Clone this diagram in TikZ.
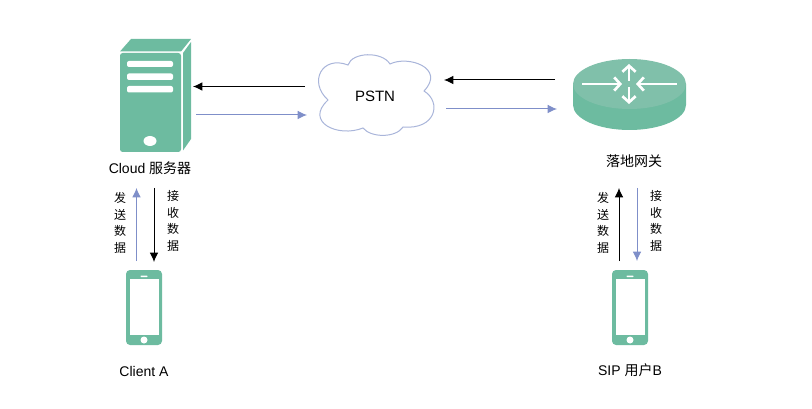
\documentclass[tikz,border=0pt]{standalone}
\usepackage{fontspec}
\setmainfont{Liberation Sans}
\newfontfamily\cjk{Noto Sans CJK SC}
\usetikzlibrary{arrows.meta}
\definecolor{grn}{HTML}{6DBBA0}
\definecolor{grnlt}{HTML}{80C0AA}
\definecolor{blu}{HTML}{7F8FC9}
\definecolor{cloudc}{HTML}{A9B5DA}
\tikzset{
  x=0.75pt,y=-0.75pt,
  lbl/.style={font=\fontsize{10.5}{12}\selectfont,inner sep=0pt,text=black},
  vlbl/.style={font=\cjk\fontsize{9}{12.6}\selectfont,inner sep=0pt,align=center,text=black},
  arrk/.style={draw=black,line width=0.75pt,-{Latex[length=7pt,width=6.5pt]}},
  arrb/.style={draw=blu,line width=0.75pt,-{Latex[length=7pt,width=6.5pt]}},
  wh/.style={draw=white,line width=2pt,-{Straight Barb[length=4.5pt,width=10pt,line width=2pt]}},
  slot/.style={fill=white,rounded corners=1.5pt},
}
\newcommand{\phone}[1]{%
  \fill[grn,rounded corners=3pt] (#1-18,270) rectangle (#1+18,345);
  \fill[white] (#1-14.5,279) rectangle (#1+14.5,335);
  \fill[white,rounded corners=0.5pt] (#1-3.5,275.5) rectangle (#1+3.5,277);
  \fill[white] (#1,340) circle[radius=3.5];
}
\begin{document}
\begin{tikzpicture}
\useasboundingbox (0,0) rectangle (812,409);
% server
\fill[grn] (120,51.5) -- (131,39) -- (191,39) -- (181,51.5) -- cycle;
\fill[grn] (183,53) -- (191,42) -- (191,139) -- (183,150.5) -- cycle;
\fill[grn,rounded corners=2pt] (120,53) rectangle (181,152);
\fill[slot] (127,61) rectangle (173,67);
\fill[slot] (127,73.5) rectangle (173,80);
\fill[slot] (127,86) rectangle (173,92.5);
\fill[white] (150,141) ellipse[x radius=6.5,y radius=5];
\node[lbl] (server) at (150,168) {Cloud {\cjk 服务器}};
% cloud
\draw[cloudc,line width=0.75pt,fill=white]
  (328,100) .. controls (308,82) and (322,55) .. (348,65)
  .. controls (352,52) and (382,51) .. (390,64)
  .. controls (408,55) and (446,68) .. (424,91)
  .. controls (442,102) and (436,130) .. (403,127)
  .. controls (396,138) and (371,138) .. (363,128)
  .. controls (338,138) and (304,122) .. (328,100) -- cycle;
\node[font=\fontsize{11.25}{13}\selectfont,inner sep=0pt] (pstn) at (375,96) {PSTN};
% router
\fill[grn] (573,84) -- (573,105) arc[start angle=180,end angle=0,x radius=56.5,y radius=25] -- (686,84) -- cycle;
\fill[grnlt] (629.5,84) ellipse[x radius=56.5,y radius=25];
\coordinate (rl0) at (582,84); \coordinate (rl1) at (622,84);
\coordinate (rr0) at (677,84); \coordinate (rr1) at (636,84);
\coordinate (ru0) at (629,81); \coordinate (ru1) at (629,64);
\coordinate (rd0) at (629,87); \coordinate (rd1) at (629,104);
\draw[wh] (rl0) -- (rl1);
\draw[wh] (rr0) -- (rr1);
\draw[wh] (ru0) -- (ru1);
\draw[wh] (rd0) -- (rd1);
\node[lbl,font=\cjk\fontsize{10.5}{12}\selectfont] (gw) at (634,161) {落地网关};
% phones
\phone{144}
\phone{630}
\node[lbl] (clienta) at (144,371) {Client A};
\node[lbl] (sipb) at (630,370) {SIP {\cjk 用户}B};
% horizontal connectors
\coordinate (a1) at (305,86.5); \coordinate (a2) at (193,86.5);
\coordinate (b1) at (196,115); \coordinate (b2) at (307,115);
\coordinate (c1) at (555,80); \coordinate (c2) at (444,80);
\coordinate (d1) at (446,109); \coordinate (d2) at (557,109);
\draw[arrk] (a1) -- (a2);
\draw[arrb] (b1) -- (b2);
\draw[arrk] (c1) -- (c2);
\draw[arrb] (d1) -- (d2);
% vertical connectors
\coordinate (e1) at (136.5,261); \coordinate (e2) at (136.5,188);
\coordinate (f1) at (154,188); \coordinate (f2) at (154,262);
\coordinate (g1) at (619,261); \coordinate (g2) at (619,188);
\coordinate (h1) at (637,188); \coordinate (h2) at (637,261);
\draw[arrb] (e1) -- (e2);
\draw[arrk] (f1) -- (f2);
\draw[arrk] (g1) -- (g2);
\draw[arrb] (h1) -- (h2);
% vertical labels
\node[vlbl] (sa) at (120,223) {发\\送\\数\\据};
\node[vlbl] (ra) at (173,221) {接\\收\\数\\据};
\node[vlbl] (sb) at (603,223) {发\\送\\数\\据};
\node[vlbl] (rb) at (656,221) {接\\收\\数\\据};
\end{tikzpicture}
\end{document}
